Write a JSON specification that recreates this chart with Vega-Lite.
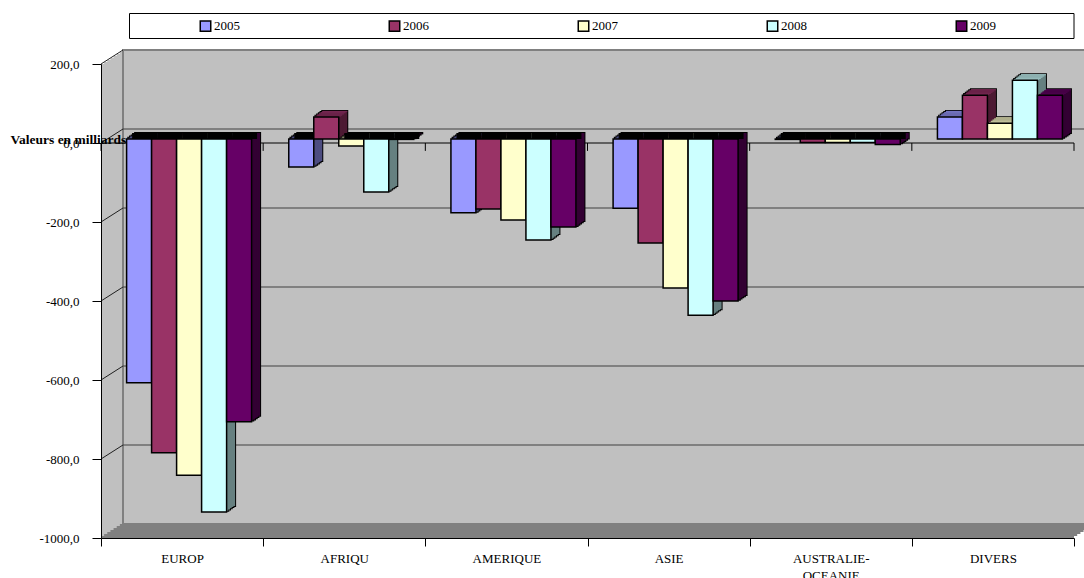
{"$schema":"https://vega.github.io/schema/vega-lite/v6.json","background":"white","autosize":"none","padding":{"left":101,"top":64,"right":10,"bottom":40},"width":973,"height":474,"config":{"view":{"stroke":null},"font":"Liberation Serif"},"datasets":{"bars":[{"region":"EUROP","year":"2005","v":-617,"base":0},{"region":"EUROP","year":"2006","v":-794,"base":0},{"region":"EUROP","year":"2007","v":-851,"base":0},{"region":"EUROP","year":"2008","v":-944,"base":0},{"region":"EUROP","year":"2009","v":-716,"base":0},{"region":"AFRIQU","year":"2005","v":-71,"base":0},{"region":"AFRIQU","year":"2006","v":56,"base":0},{"region":"AFRIQU","year":"2007","v":-18,"base":0},{"region":"AFRIQU","year":"2008","v":-134,"base":0},{"region":"AFRIQU","year":"2009","v":-1,"base":0},{"region":"AMERIQUE","year":"2005","v":-187,"base":0},{"region":"AMERIQUE","year":"2006","v":-177,"base":0},{"region":"AMERIQUE","year":"2007","v":-205,"base":0},{"region":"AMERIQUE","year":"2008","v":-256,"base":0},{"region":"AMERIQUE","year":"2009","v":-223,"base":0},{"region":"ASIE","year":"2005","v":-175,"base":0},{"region":"ASIE","year":"2006","v":-263,"base":0},{"region":"ASIE","year":"2007","v":-377,"base":0},{"region":"ASIE","year":"2008","v":-446,"base":0},{"region":"ASIE","year":"2009","v":-410,"base":0},{"region":"AUSTRALIE-OCEANIE","year":"2005","v":-1,"base":0},{"region":"AUSTRALIE-OCEANIE","year":"2006","v":-9,"base":0},{"region":"AUSTRALIE-OCEANIE","year":"2007","v":-9,"base":0},{"region":"AUSTRALIE-OCEANIE","year":"2008","v":-9,"base":0},{"region":"AUSTRALIE-OCEANIE","year":"2009","v":-14,"base":0},{"region":"DIVERS","year":"2005","v":56,"base":0},{"region":"DIVERS","year":"2006","v":111,"base":0},{"region":"DIVERS","year":"2007","v":40,"base":0},{"region":"DIVERS","year":"2008","v":149,"base":0},{"region":"DIVERS","year":"2009","v":111,"base":0}],"wall":[{"left":0,"right":6,"top":200,"bottom":-1000}],"zero":[{"left":0,"right":6,"g":0}],"grid":[{"g":200,"left":0,"right":6},{"g":0,"left":0,"right":6},{"g":-200,"left":0,"right":6},{"g":-400,"left":0,"right":6},{"g":-600,"left":0,"right":6},{"g":-800,"left":0,"right":6}],"ticks":[{"t":0,"a":0,"b":-20},{"t":1,"a":0,"b":-20},{"t":2,"a":0,"b":-20},{"t":3,"a":0,"b":-20},{"t":4,"a":0,"b":-20},{"t":5,"a":0,"b":-20},{"t":6,"a":0,"b":-20}]},"resolve":{"scale":{"x":"independent"}},"layer":[{"layer":[{"data":{"name":"wall"},"encoding":{"x":{"field":"left","type":"quantitative","title":null,"axis":null,"scale":{"domain":[0,6],"nice":false,"zero":false}},"x2":{"field":"right"},"y":{"field":"top","type":"quantitative","title":"Valeurs en milliards","scale":{"domain":[-1000,200],"nice":false,"zero":false}},"y2":{"field":"bottom"}},"layer":[{"mark":{"type":"rect","fill":"#c0c0c0"},"encoding":{"y":{"field":"top","type":"quantitative","scale":{"domain":[-1000,200],"nice":false,"zero":false},"title":"Valeurs en milliards","axis":{"zindex":1,"values":[200,0,-200,-400,-600,-800,-1000],"labelExpr":"replace(replace(format(datum.value,'.1f'),'.',','),'\u2212','-')","labelFont":"Liberation Serif","labelFontSize":13,"labelColor":"black","labelPadding":13,"labelFlush":false,"labelOverlap":false,"tickColor":"black","tickSize":9,"domainColor":"black","grid":false,"titleFont":"Liberation Serif","titleFontSize":13.5,"titleFontWeight":"bold","titleColor":"black","titleAngle":0,"titleAlign":"left","titleBaseline":"middle","titleX":-91,"titleY":75}}}},{"mark":{"type":"rect","fill":"#c0c0c0","xOffset":3.14,"x2Offset":3.14,"yOffset":-2,"y2Offset":-2}},{"mark":{"type":"rect","fill":"#c0c0c0","xOffset":6.29,"x2Offset":6.29,"yOffset":-4,"y2Offset":-4}},{"mark":{"type":"rect","fill":"#c0c0c0","xOffset":9.43,"x2Offset":9.43,"yOffset":-6,"y2Offset":-6}},{"mark":{"type":"rect","fill":"#c0c0c0","xOffset":12.57,"x2Offset":12.57,"yOffset":-8,"y2Offset":-8}},{"mark":{"type":"rect","fill":"#c0c0c0","xOffset":15.71,"x2Offset":15.71,"yOffset":-10,"y2Offset":-10}},{"mark":{"type":"rect","fill":"#c0c0c0","xOffset":18.86,"x2Offset":18.86,"yOffset":-12,"y2Offset":-12}},{"mark":{"type":"rect","fill":"#c0c0c0","stroke":"#808080","strokeWidth":2,"xOffset":22,"x2Offset":22,"yOffset":-14,"y2Offset":-14}},{"mark":{"type":"rect","fill":"#808080","xOffset":0,"x2Offset":0,"yOffset":-2,"y2Offset":0},"encoding":{"y":{"field":"bottom","type":"quantitative","title":"Valeurs en milliards"}}},{"mark":{"type":"rect","fill":"#808080","xOffset":3.14,"x2Offset":3.14,"yOffset":-4,"y2Offset":-2},"encoding":{"y":{"field":"bottom","type":"quantitative","title":"Valeurs en milliards"}}},{"mark":{"type":"rect","fill":"#808080","xOffset":6.29,"x2Offset":6.29,"yOffset":-6,"y2Offset":-4},"encoding":{"y":{"field":"bottom","type":"quantitative","title":"Valeurs en milliards"}}},{"mark":{"type":"rect","fill":"#808080","xOffset":9.43,"x2Offset":9.43,"yOffset":-8,"y2Offset":-6},"encoding":{"y":{"field":"bottom","type":"quantitative","title":"Valeurs en milliards"}}},{"mark":{"type":"rect","fill":"#808080","xOffset":12.57,"x2Offset":12.57,"yOffset":-10,"y2Offset":-8},"encoding":{"y":{"field":"bottom","type":"quantitative","title":"Valeurs en milliards"}}},{"mark":{"type":"rect","fill":"#808080","xOffset":15.71,"x2Offset":15.71,"yOffset":-12,"y2Offset":-10},"encoding":{"y":{"field":"bottom","type":"quantitative","title":"Valeurs en milliards"}}},{"mark":{"type":"rect","fill":"#808080","xOffset":18.86,"x2Offset":18.86,"yOffset":-14,"y2Offset":-12},"encoding":{"y":{"field":"bottom","type":"quantitative","title":"Valeurs en milliards"}}},{"mark":{"type":"rect","fill":"white","stroke":"black","strokeWidth":1,"xOffset":28.5,"yOffset":-50.5,"y2Offset":-25.5},"encoding":{"y2":{"field":"top"}}}]},{"data":{"name":"grid"},"transform":[{"filter":"datum.g < 200"}],"mark":{"type":"rule","color":"#404040","strokeWidth":1,"xOffset":22,"x2Offset":22,"yOffset":-14},"encoding":{"x":{"field":"left","type":"quantitative","title":null,"axis":null},"x2":{"field":"right"},"y":{"field":"g","type":"quantitative","title":"Valeurs en milliards"}}},{"data":{"name":"grid"},"mark":{"type":"rule","color":"#202020","strokeWidth":1,"x2Offset":22,"y2Offset":-14},"encoding":{"x":{"field":"left","type":"quantitative","title":null,"axis":null},"x2":{"field":"left"},"y":{"field":"g","type":"quantitative","title":"Valeurs en milliards"},"y2":{"field":"g"}}},{"data":{"name":"zero"},"mark":{"type":"rule","color":"black","strokeWidth":1},"encoding":{"x":{"field":"left","type":"quantitative","title":null,"axis":null},"x2":{"field":"right"},"y":{"field":"g","type":"quantitative","title":"Valeurs en milliards"}}},{"data":{"name":"ticks"},"mark":{"type":"rule","color":"black","strokeWidth":1},"encoding":{"x":{"field":"t","type":"quantitative","title":null,"axis":null},"y":{"field":"a","type":"quantitative","title":"Valeurs en milliards"},"y2":{"field":"b"}}}]},{"data":{"name":"bars"},"resolve":{"scale":{"color":"independent","xOffset":"independent"}},"encoding":{"x":{"field":"region","type":"nominal","sort":null,"title":null,"scale":{"padding":0},"axis":{"zindex":1,"labelAngle":0,"tickBand":"extent","tickColor":"black","tickSize":8,"domainColor":"black","labelFont":"Liberation Serif","labelFontSize":13,"labelColor":"black","labelPadding":6,"labelLineHeight":17,"labelExpr":"datum.label == 'AUSTRALIE-OCEANIE' ? ['AUSTRALIE-','OCEANIE'] : datum.label"}},"y":{"field":"v","type":"quantitative","stack":null,"title":"Valeurs en milliards"},"y2":{"field":"base"}},"layer":[{"mark":{"type":"bar","fill":"black","stroke":"black","strokeWidth":2,"yOffset":-10,"y2Offset":-10},"encoding":{"xOffset":{"field":"year","scale":{"range":[34.1,159.1],"padding":0}}}},{"mark":{"type":"bar","fill":"black","stroke":"black","strokeWidth":2,"yOffset":-8.8,"y2Offset":-8.8},"encoding":{"xOffset":{"field":"year","scale":{"range":[32.4,157.4],"padding":0}}}},{"mark":{"type":"bar","fill":"black","stroke":"black","strokeWidth":2,"yOffset":-7.6,"y2Offset":-7.6},"encoding":{"xOffset":{"field":"year","scale":{"range":[30.7,155.7],"padding":0}}}},{"mark":{"type":"bar","fill":"black","stroke":"black","strokeWidth":2,"yOffset":-6.4,"y2Offset":-6.4},"encoding":{"xOffset":{"field":"year","scale":{"range":[29,154],"padding":0}}}},{"mark":{"type":"bar","fill":"black","stroke":"black","strokeWidth":2,"yOffset":-5.2,"y2Offset":-5.2},"encoding":{"xOffset":{"field":"year","scale":{"range":[27.3,152.3],"padding":0}}}},{"mark":{"type":"bar","yOffset":-10,"y2Offset":-10},"encoding":{"xOffset":{"field":"year","scale":{"range":[34.1,159.1],"padding":0}},"color":{"field":"year","type":"nominal","legend":null,"scale":{"range":["#4d4d80","#4d1a33","#808066","#668080","#330033"]}}}},{"mark":{"type":"bar","yOffset":-8.8,"y2Offset":-8.8},"encoding":{"xOffset":{"field":"year","scale":{"range":[32.4,157.4],"padding":0}},"color":{"field":"year","type":"nominal","legend":null,"scale":{"range":["#4d4d80","#4d1a33","#808066","#668080","#330033"]}}}},{"mark":{"type":"bar","yOffset":-7.6,"y2Offset":-7.6},"encoding":{"xOffset":{"field":"year","scale":{"range":[30.7,155.7],"padding":0}},"color":{"field":"year","type":"nominal","legend":null,"scale":{"range":["#4d4d80","#4d1a33","#808066","#668080","#330033"]}}}},{"mark":{"type":"bar","yOffset":-6.4,"y2Offset":-6.4},"encoding":{"xOffset":{"field":"year","scale":{"range":[29,154],"padding":0}},"color":{"field":"year","type":"nominal","legend":null,"scale":{"range":["#4d4d80","#4d1a33","#808066","#668080","#330033"]}}}},{"mark":{"type":"bar","yOffset":-5.2,"y2Offset":-5.2},"encoding":{"xOffset":{"field":"year","scale":{"range":[27.3,152.3],"padding":0}},"color":{"field":"year","type":"nominal","legend":null,"scale":{"range":["#4d4d80","#4d1a33","#808066","#668080","#330033"]}}}},{"transform":[{"filter":"datum.v > 0"}],"mark":{"type":"bar","yOffset":-10,"y2Offset":-8.8},"encoding":{"y2":{"field":"v"},"xOffset":{"field":"year","scale":{"domain":["2005","2006","2007","2008","2009"],"range":[34.1,159.1],"padding":0}},"color":{"field":"year","type":"nominal","legend":null,"scale":{"domain":["2005","2006","2007","2008","2009"],"range":["#7373bf","#732650","#bfbf99","#99bfbf","#4d004d"]}}}},{"transform":[{"filter":"datum.v > 0"}],"mark":{"type":"bar","yOffset":-8.8,"y2Offset":-7.6},"encoding":{"y2":{"field":"v"},"xOffset":{"field":"year","scale":{"domain":["2005","2006","2007","2008","2009"],"range":[32.4,157.4],"padding":0}},"color":{"field":"year","type":"nominal","legend":null,"scale":{"domain":["2005","2006","2007","2008","2009"],"range":["#7373bf","#732650","#bfbf99","#99bfbf","#4d004d"]}}}},{"transform":[{"filter":"datum.v > 0"}],"mark":{"type":"bar","yOffset":-7.6,"y2Offset":-6.4},"encoding":{"y2":{"field":"v"},"xOffset":{"field":"year","scale":{"domain":["2005","2006","2007","2008","2009"],"range":[30.7,155.7],"padding":0}},"color":{"field":"year","type":"nominal","legend":null,"scale":{"domain":["2005","2006","2007","2008","2009"],"range":["#7373bf","#732650","#bfbf99","#99bfbf","#4d004d"]}}}},{"transform":[{"filter":"datum.v > 0"}],"mark":{"type":"bar","yOffset":-6.4,"y2Offset":-5.2},"encoding":{"y2":{"field":"v"},"xOffset":{"field":"year","scale":{"domain":["2005","2006","2007","2008","2009"],"range":[29,154],"padding":0}},"color":{"field":"year","type":"nominal","legend":null,"scale":{"domain":["2005","2006","2007","2008","2009"],"range":["#7373bf","#732650","#bfbf99","#99bfbf","#4d004d"]}}}},{"transform":[{"filter":"datum.v > 0"}],"mark":{"type":"bar","yOffset":-5.2,"y2Offset":-4},"encoding":{"y2":{"field":"v"},"xOffset":{"field":"year","scale":{"domain":["2005","2006","2007","2008","2009"],"range":[27.3,152.3],"padding":0}},"color":{"field":"year","type":"nominal","legend":null,"scale":{"domain":["2005","2006","2007","2008","2009"],"range":["#7373bf","#732650","#bfbf99","#99bfbf","#4d004d"]}}}},{"transform":[{"filter":"datum.v <= 0"}],"mark":{"type":"bar","fill":"black","yOffset":-10,"y2Offset":-4},"encoding":{"y":{"field":"base","type":"quantitative","stack":null,"title":"Valeurs en milliards"},"xOffset":{"field":"year","scale":{"domain":["2005","2006","2007","2008","2009"],"range":[31.1,156.1],"padding":0}}}},{"mark":{"type":"bar","stroke":"black","strokeWidth":1.5,"yOffset":-4,"y2Offset":-4},"encoding":{"xOffset":{"field":"year","scale":{"range":[25.6,150.6],"padding":0}},"color":{"field":"year","type":"nominal","title":null,"scale":{"range":["#9999ff","#993366","#ffffcc","#ccffff","#660066"]},"legend":{"orient":"none","legendX":98,"legendY":-44.5,"direction":"horizontal","columns":5,"columnPadding":146,"symbolType":"square","symbolSize":110,"symbolStrokeColor":"black","symbolStrokeWidth":1.5,"labelFont":"Liberation Serif","labelFontSize":13,"labelColor":"black","labelOffset":2}}}}]}]}
